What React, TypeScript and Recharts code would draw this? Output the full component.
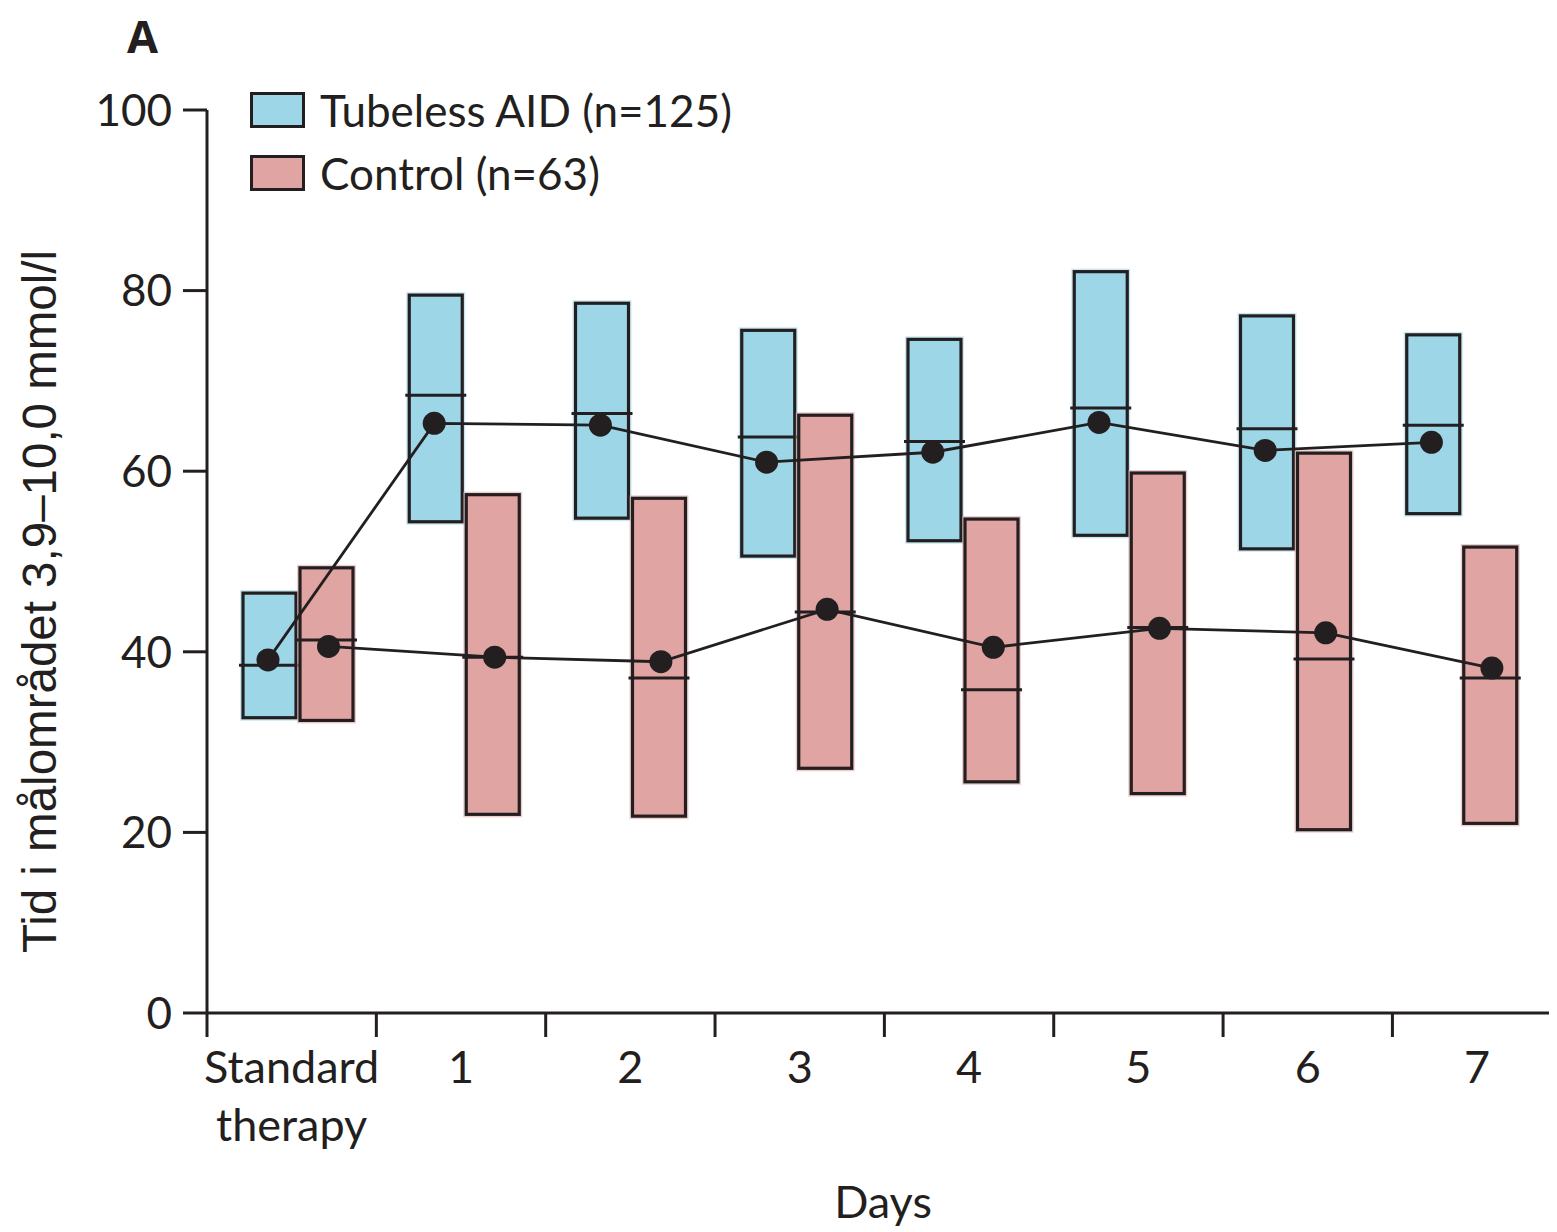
import React from 'react';
import { ComposedChart, Bar, Line, XAxis, YAxis, Legend, Label } from 'recharts';

const categories = ['Standard therapy', '1', '2', '3', '4', '5', '6', '7'];
const tubelessLow = [32.7, 54.4, 54.8, 50.6, 52.3, 52.9, 51.4, 55.3];
const tubelessHigh = [46.5, 79.5, 78.6, 75.6, 74.6, 82.1, 77.2, 75.1];
const tubelessMedian = [38.5, 68.4, 66.4, 63.8, 63.3, 67.0, 64.7, 65.1];
const tubelessMean = [39.1, 65.3, 65.1, 61.0, 62.1, 65.4, 62.3, 63.2];
const controlLow = [32.4, 22.0, 21.8, 27.1, 25.6, 24.3, 20.3, 21.0];
const controlHigh = [49.3, 57.4, 57.0, 66.2, 54.7, 59.8, 62.0, 51.6];
const controlMedian = [41.3, 39.4, 37.1, 44.4, 35.8, 42.7, 39.2, 37.1];
const controlMean = [40.6, 39.4, 38.9, 44.7, 40.5, 42.6, 42.1, 38.2];

const yTicks = [0, 20, 40, 60, 80, 100];
const dayTicks = [0, 1, 2, 3, 4, 5, 6, 7];
const labelTicks = [0.5, 1.5, 2.5, 3.5, 4.5, 5.5, 6.5, 7.5];
const seriesNames = ['Tubeless AID (n=125)', 'Control (n=63)'];
const yTitle = 'Tid i målområdet 3,9–10,0 mmol/l';
const xTitle = 'Days';
const panelLetter = 'A';

const BLUE = '#9dd6e7';
const PINK = '#e0a4a2';
const INK = '#231f20';
const FONT = 'Lato, "Open Sans", sans-serif';

const data = categories.map((c, i) => ({
  label: c,
  idx: i,
  tub: [tubelessLow[i], tubelessHigh[i]],
  ctl: [controlLow[i], controlHigh[i]],
  tubMed: tubelessMedian[i],
  ctlMed: controlMedian[i],
  tubMean: tubelessMean[i],
  ctlMean: controlMean[i],
}));

const allXTicks = [...dayTicks, ...labelTicks].sort((a, b) => a - b);

const makeBox = (rangeKey: string, medKey: string, color: string) => (props: any) => {
  const { x, y, width, height, payload } = props;
  if (x == null || y == null) return null;
  const top = Math.min(y, y + height);
  const h = Math.abs(height);
  const [lo, hi] = payload[rangeKey];
  const med = payload[medKey];
  const my = top + (h * (hi - med)) / (hi - lo);
  return (
    <g>
      <rect x={x - 3} y={top - 3} width={width + 6} height={h + 6} fill={color} opacity={0.55} />
      <rect x={x} y={top} width={width} height={h} fill={color} stroke={INK} strokeWidth={3.2} />
      <line x1={x - 4} x2={x + width + 4} y1={my} y2={my} stroke={INK} strokeWidth={3} />
    </g>
  );
};

const YTick = (props: any) => {
  const { x, y, payload } = props;
  return (
    <text x={x} y={y} dy="0.36em" textAnchor="end" fontFamily={FONT} fontSize={44} fill={INK}>
      {payload.value}
    </text>
  );
};

const XTick = (props: any) => {
  const { x, y, payload } = props;
  const v = payload.value;
  if (Number.isInteger(v)) {
    return <line x1={x} x2={x} y1={y} y2={y + 24} stroke={INK} strokeWidth={3} />;
  }
  const words = categories[Math.floor(v)].split(' ');
  return (
    <text x={x} y={y} textAnchor="middle" fontFamily={FONT} fontSize={45} fill={INK}>
      {words.map((w, k) => (
        <tspan key={k} x={x} dy={k === 0 ? 70 : 58}>
          {w}
        </tspan>
      ))}
    </text>
  );
};

const LegendContent = () => (
  <div style={{ fontFamily: FONT, fontSize: 44, color: INK, lineHeight: 1 }}>
    {seriesNames.map((n, k) => (
      <div key={n} style={{ display: 'flex', alignItems: 'center', height: 63 }}>
        <div
          style={{
            width: 49,
            height: 30,
            border: `3px solid ${INK}`,
            background: k === 0 ? BLUE : PINK,
            marginRight: 15,
          }}
        />
        <span style={{ whiteSpace: 'nowrap' }}>{n}</span>
      </div>
    ))}
  </div>
);

export default function App() {
  return (
    <div style={{ position: 'relative', width: 1549, height: 1224 }}>
      <div
        style={{
          position: 'absolute',
          left: 119,
          top: 4,
          fontFamily: '"Open Sans", sans-serif',
          fontWeight: 700,
          fontSize: 45,
          lineHeight: '48px',
          color: INK,
        }}
      >
        {panelLetter}
      </div>
      <ComposedChart
        width={1549}
        height={1224}
        data={data}
        margin={{ top: 102, right: 2, bottom: 0, left: 0 }}
        style={{ fontFamily: FONT }}
      >
        <XAxis
          xAxisId="days"
          type="number"
          dataKey="idx"
          domain={[0, 7.96]}
          allowDataOverflow
          ticks={allXTicks}
          interval={0}
          tick={<XTick />}
          tickSize={0}
          tickMargin={0}
          height={219}
          axisLine={{ stroke: INK, strokeWidth: 3 }}
          tickLine={false}
        >
          <Label
            content={() => (
              <text x={875} y={1210} textAnchor="middle" fontFamily={FONT} fontSize={45} fill={INK}>
                {xTitle}
              </text>
            )}
          />
        </XAxis>
        <XAxis xAxisId="cat" type="category" dataKey="label" hide height={0} padding={{ left: 8, right: 10 }} />
        <XAxis
          xAxisId="tubX"
          type="number"
          dataKey="idx"
          domain={[0, 7]}
          hide
          height={0}
          padding={{ left: 61, right: 123.6 }}
        />
        <XAxis
          xAxisId="ctlX"
          type="number"
          dataKey="idx"
          domain={[0, 7]}
          hide
          height={0}
          padding={{ left: 121.5, right: 63.1 }}
        />
        <YAxis
          type="number"
          domain={[0, 100]}
          ticks={yTicks}
          width={199}
          tickSize={24}
          tickMargin={11}
          tick={<YTick />}
          axisLine={{ stroke: INK, strokeWidth: 3 }}
          tickLine={{ stroke: INK, strokeWidth: 3 }}
        >
          <Label
            content={() => (
              <text
                x={48}
                y={593.5}
                transform="rotate(-90, 48, 593.5)"
                textAnchor="middle"
                fontFamily='"Liberation Sans", Arial, sans-serif'
                fontSize={47.5}
                fill={INK}
              >
                {yTitle}
              </text>
            )}
          />
        </YAxis>
        <Legend
          layout="vertical"
          align="center"
          verticalAlign="middle"
          content={<LegendContent />}
          wrapperStyle={{ left: 242, top: 70, width: 600 }}
        />
        <Bar
          xAxisId="cat"
          dataKey="tub"
          barSize={53}
          fill={BLUE}
          shape={makeBox('tub', 'tubMed', BLUE)}
          isAnimationActive={false}
        />
        <Bar
          xAxisId="cat"
          dataKey="ctl"
          barSize={53}
          fill={PINK}
          shape={makeBox('ctl', 'ctlMed', PINK)}
          isAnimationActive={false}
        />
        <Line
          xAxisId="tubX"
          dataKey="tubMean"
          stroke={INK}
          strokeWidth={2.8}
          dot={{ r: 11.5, fill: INK, stroke: 'none' }}
          activeDot={false}
          isAnimationActive={false}
        />
        <Line
          xAxisId="ctlX"
          dataKey="ctlMean"
          stroke={INK}
          strokeWidth={2.8}
          dot={{ r: 11.5, fill: INK, stroke: 'none' }}
          activeDot={false}
          isAnimationActive={false}
        />
      </ComposedChart>
    </div>
  );
}
